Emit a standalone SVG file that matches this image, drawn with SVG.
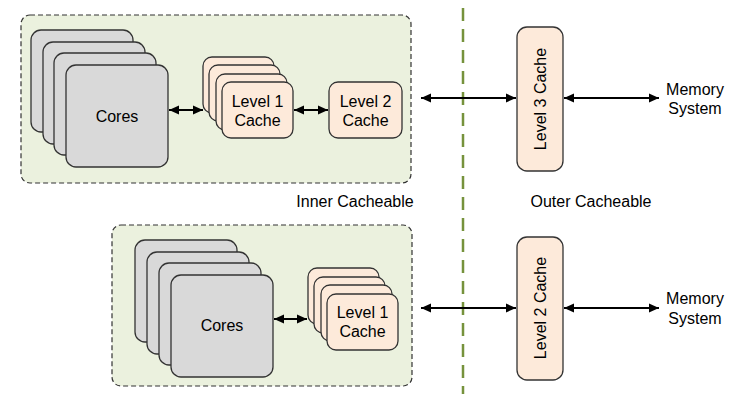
<svg xmlns="http://www.w3.org/2000/svg" width="740" height="400" viewBox="0 0 740 400">
<defs>
<style>
.grp{fill:#ebf1de;stroke:#333;stroke-width:1.2;stroke-dasharray:5,3}
.core{fill:#d9d9d9;stroke:#333;stroke-width:1.3}
.cache{fill:#fdeada;stroke:#333;stroke-width:1.3}
.lbl{font-family:"Liberation Sans",Arial,sans-serif;font-size:16px;fill:#000;text-anchor:middle;dominant-baseline:central}
.conn{stroke:#000;stroke-width:2;fill:none;marker-start:url(#ah);marker-end:url(#ah)}
.div{stroke:#76923c;stroke-width:2.5;stroke-dasharray:13,8}
</style>
<marker id="ah" markerUnits="userSpaceOnUse" markerWidth="11" markerHeight="10" refX="10" refY="5" orient="auto-start-reverse"><path d="M0,0.5 L10,5 L0,9.5 z" fill="#000"/></marker>
</defs>
<rect width="740" height="400" fill="#fff"/>
<line class="div" x1="463" y1="8" x2="463" y2="394"/>
<g id="inner-top">
<rect class="grp" x="21" y="15" width="390" height="168" rx="9"/>
</g>
<g id="inner-bottom">
<rect class="grp" x="112" y="225" width="300" height="161" rx="9"/>
</g>
<g id="cores-top">
<rect class="core" x="31" y="30" width="102" height="102" rx="10"/>
<rect class="core" x="43" y="42" width="102" height="102" rx="10"/>
<rect class="core" x="54" y="53" width="102" height="102" rx="10"/>
<rect class="core" x="66" y="65" width="102" height="102" rx="10"/>
<text class="lbl" x="117" y="116">Cores</text>
</g>
<g id="l1-top">
<rect class="cache" x="203" y="57" width="71" height="56" rx="9"/>
<rect class="cache" x="209" y="65" width="71" height="56" rx="9"/>
<rect class="cache" x="216" y="74" width="71" height="56" rx="9"/>
<rect class="cache" x="222" y="82" width="71" height="56" rx="9"/>
<text class="lbl" x="257.5" y="101">Level 1</text>
<text class="lbl" x="257.5" y="120">Cache</text>
</g>
<g id="l2-top">
<rect class="cache" x="329" y="82" width="73" height="56" rx="9"/>
<text class="lbl" x="365.5" y="101">Level 2</text>
<text class="lbl" x="365.5" y="120">Cache</text>
</g>
<g id="l3">
<rect class="cache" x="517" y="27" width="46" height="144" rx="10"/>
<text class="lbl" transform="translate(540,99) rotate(-90)">Level 3 Cache</text>
</g>
<g id="mem-top">
<text class="lbl" x="695" y="89">Memory</text>
<text class="lbl" x="695" y="108">System</text>
</g>
<g id="cores-bottom">
<rect class="core" x="135" y="240" width="102" height="102" rx="10"/>
<rect class="core" x="147" y="252" width="102" height="102" rx="10"/>
<rect class="core" x="159" y="263" width="102" height="102" rx="10"/>
<rect class="core" x="171" y="275" width="102" height="102" rx="10"/>
<text class="lbl" x="222" y="325">Cores</text>
</g>
<g id="l1-bottom">
<rect class="cache" x="308" y="268" width="71" height="56" rx="9"/>
<rect class="cache" x="314" y="277" width="71" height="56" rx="9"/>
<rect class="cache" x="321" y="285" width="71" height="56" rx="9"/>
<rect class="cache" x="327" y="294" width="71" height="56" rx="9"/>
<text class="lbl" x="362.5" y="312">Level 1</text>
<text class="lbl" x="362.5" y="331">Cache</text>
</g>
<g id="l2-outer">
<rect class="cache" x="517" y="237" width="46" height="143" rx="10"/>
<text class="lbl" transform="translate(540,308) rotate(-90)">Level 2 Cache</text>
</g>
<g id="mem-bottom">
<text class="lbl" x="695" y="298">Memory</text>
<text class="lbl" x="695" y="318">System</text>
</g>
<g id="labels">
<text class="lbl" x="355" y="201">Inner Cacheable</text>
<text class="lbl" x="591" y="201">Outer Cacheable</text>
</g>
<g id="connectors">
<line class="conn" x1="169" y1="110" x2="203" y2="110"/>
<line class="conn" x1="294" y1="110" x2="328" y2="110"/>
<line class="conn" x1="421" y1="98" x2="516" y2="98"/>
<line class="conn" x1="564" y1="98" x2="659" y2="98"/>
<line class="conn" x1="274" y1="319" x2="307" y2="319"/>
<line class="conn" x1="421" y1="308" x2="516" y2="308"/>
<line class="conn" x1="564" y1="308" x2="659" y2="308"/>
</g>
</svg>
